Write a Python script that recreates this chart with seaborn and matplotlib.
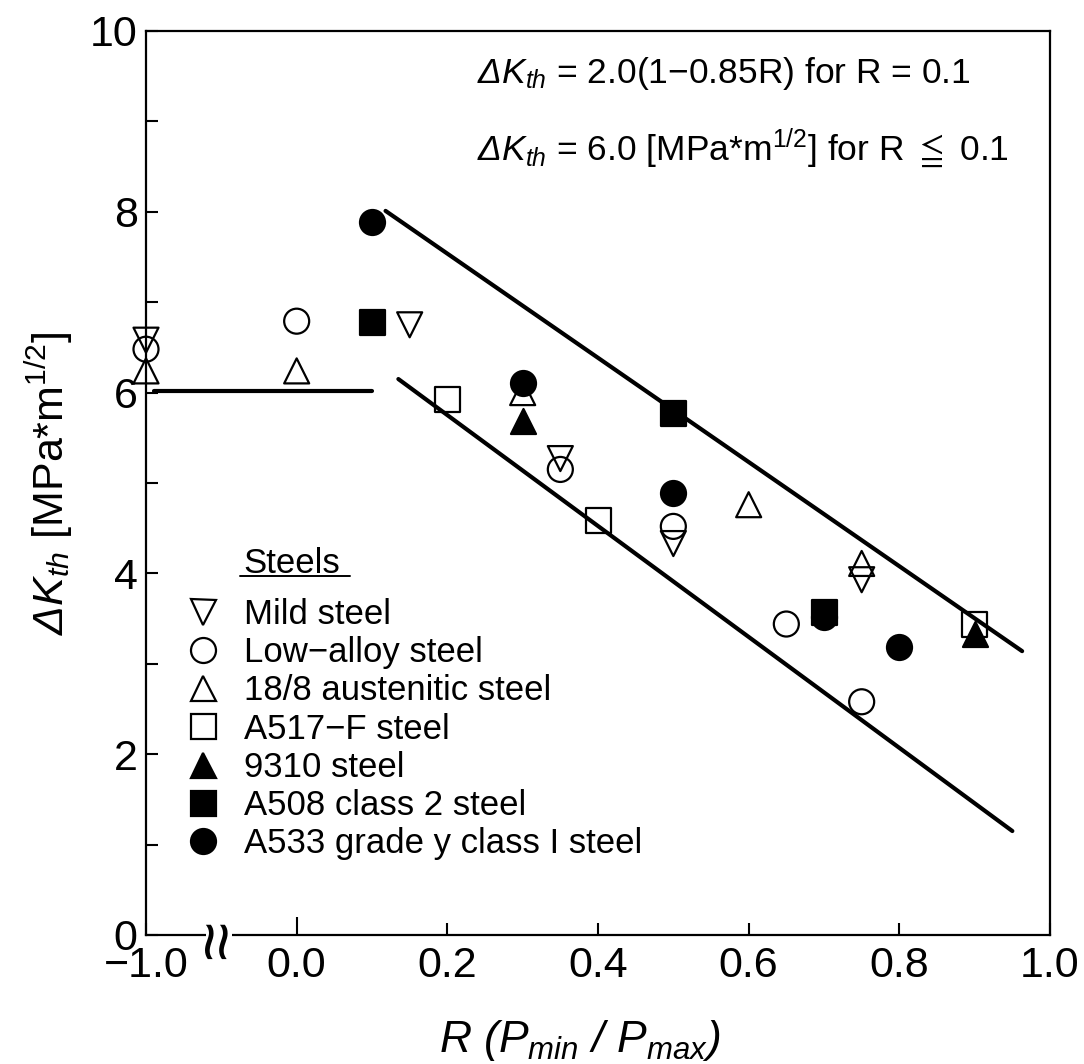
import numpy as np
import pandas as pd
import matplotlib
matplotlib.use("Agg")
import matplotlib.pyplot as plt
import matplotlib.transforms as mtransforms
from matplotlib.lines import Line2D
from matplotlib.ticker import MultipleLocator, NullLocator, FixedLocator
import seaborn as sns

# ---------------- data ----------------
steel_names = ["Mild steel", "Low\u2212alloy steel", "18/8 austenitic steel",
               "A517\u2212F steel", "9310 steel", "A508 class 2 steel",
               "A533 grade y class I steel"]

mild_R = [-1.0, 0.15, 0.35, 0.50, 0.75]
mild_dK = [6.58, 6.75, 5.27, 4.33, 3.93]
lowalloy_R = [-1.0, 0.0, 0.35, 0.50, 0.65, 0.75]
lowalloy_dK = [6.48, 6.79, 5.15, 4.52, 3.44, 2.58]
austenitic_R = [-1.0, 0.0, 0.30, 0.60, 0.75]
austenitic_dK = [6.24, 6.24, 6.00, 4.76, 4.11]
a517_R = [0.20, 0.40, 0.90]
a517_dK = [5.92, 4.58, 3.44]
s9310_R = [0.30, 0.90]
s9310_dK = [5.69, 3.33]
a508_R = [0.10, 0.50, 0.70]
a508_dK = [6.78, 5.77, 3.57]
a533_R = [0.10, 0.30, 0.50, 0.70, 0.80]
a533_dK = [7.89, 6.11, 4.89, 3.52, 3.19]

upper_R = [0.118, 0.963]
upper_dK = [8.01, 3.14]
lower_R = [0.135, 0.950]
lower_dK = [6.15, 1.15]
flat_R = [-0.19, 0.10]          # on the broken-axis scale
flat_dK = [6.02, 6.02]

x_tick_R = [-1.0, 0.0, 0.2, 0.4, 0.6, 0.8, 1.0]
x_tick_labels = ["\u22121.0", "0.0", "0.2", "0.4", "0.6", "0.8", "1.0"]
y_tick_vals = [0, 2, 4, 6, 8, 10]

eq1 = r"$\Delta K_{th}$" + " = 2.0(1\u22120.85R) for R = 0.1"
eq2 = r"$\Delta K_{th}$ = 6.0 [MPa*m$^{\mathsf{1/2}}$] for R $\leqq$ 0.1"
ylabel = r"$\Delta K_{th}$ [MPa*m$^{\mathsf{1/2}}$]"
xlabel = r"$R\ (P_{min}\ /\ P_{max})$"

# ---------------- styling ----------------
sns.set_theme(style="ticks")
plt.rcParams["font.family"] = ["Liberation Sans", "DejaVu Sans"]
plt.rcParams["mathtext.fontset"] = "custom"
plt.rcParams["mathtext.rm"] = "Liberation Sans:italic"
plt.rcParams["mathtext.it"] = "Liberation Sans:italic"
plt.rcParams["mathtext.sf"] = "Liberation Sans"
plt.rcParams["mathtext.fallback"] = "stixsans"
plt.rcParams["axes.unicode_minus"] = True


def broken(r):
    """Map R onto the broken x axis: R = -1.0 sits at -0.2."""
    r = np.asarray(r, dtype=float)
    return np.where(r <= -0.99, -0.2, r)


series = [
    (steel_names[0], mild_R, mild_dK, "v", False),
    (steel_names[1], lowalloy_R, lowalloy_dK, "o", False),
    (steel_names[2], austenitic_R, austenitic_dK, "^", False),
    (steel_names[3], a517_R, a517_dK, "s", False),
    (steel_names[4], s9310_R, s9310_dK, "^", True),
    (steel_names[5], a508_R, a508_dK, "s", True),
    (steel_names[6], a533_R, a533_dK, "o", True),
]

rows = []
for name, R, dK, m, filled in series:
    for r, k in zip(R, dK):
        rows.append({"steel": name, "R": r, "Rx": float(broken([r])[0]), "dK": k})
df = pd.DataFrame(rows)

W, H = 1084, 1064
fig = plt.figure(figsize=(W / 100, H / 100), dpi=100)
ax_l, ax_r, ax_t, ax_b = 146, 1050, 31, 935
ax = fig.add_axes([ax_l / W, 1 - ax_b / H, (ax_r - ax_l) / W, (ax_b - ax_t) / H])
ax.set_facecolor("white")

MS = 18  # marker size in points
for name, R, dK, m, filled in series:
    sub = df[df["steel"] == name]
    sns.scatterplot(data=sub, x="Rx", y="dK", marker=m, s=MS ** 2, ax=ax,
                    clip_on=False, zorder=4 if filled else 3, legend=False)
    coll = ax.collections[-1]
    coll.set_facecolor("black" if filled else "none")
    coll.set_edgecolor("black")
    coll.set_linewidth(1.6)

for xs, ys in [(upper_R, upper_dK), (lower_R, lower_dK), (flat_R, flat_dK)]:
    sns.lineplot(x=xs, y=ys, color="black", linewidth=3.0, sort=False,
                 ax=ax, zorder=2, estimator=None)

ax.set_xlim(-0.2, 1.0)
ax.set_ylim(0, 10)
ax.xaxis.set_major_locator(FixedLocator(list(broken(x_tick_R))))
ax.set_xticklabels(x_tick_labels)
ax.xaxis.set_minor_locator(NullLocator())
ax.set_yticks(y_tick_vals)
ax.yaxis.set_minor_locator(MultipleLocator(1))

for s in ax.spines.values():
    s.set_linewidth(1.6)
    s.set_color("black")
ax.tick_params(axis="both", which="both", direction="in", length=8.6,
               width=1.5, color="black", top=False, right=False)
ax.tick_params(axis="both", which="major", labelsize=31, labelcolor="black")
ax.tick_params(axis="x", pad=8)
ax.tick_params(axis="y", pad=6)
ax.xaxis.get_major_ticks()[1].tick1line.set_markersize(13)

ax.set_xlabel(xlabel, fontsize=32, color="black")
ax.set_ylabel(ylabel, fontsize=31, color="black")
ax.xaxis.set_label_coords(0.48, -0.092)
ax.yaxis.set_label_coords(-0.078, 0.5)

# equations
def fx(px):
    return (px - ax_l) / (ax_r - ax_l)

def fy(py):
    return (ax_b - py) / (ax_b - ax_t)

ax.text(fx(477), fy(83), eq1, transform=ax.transAxes, fontsize=25.5,
        va="baseline", ha="left", color="black")
ax.text(fx(477), fy(160), eq2, transform=ax.transAxes, fontsize=25.5,
        va="baseline", ha="left", color="black")

# axis break symbol
trans = mtransforms.blended_transform_factory(ax.transData, ax.transAxes)
ax.plot([fx(206) * 1.2 - 0.2, fx(232) * 1.2 - 0.2], [0, 0], color="white",
        lw=3, transform=trans, clip_on=False, zorder=6, solid_capstyle="butt")
ax.text(fx(219) * 1.2 - 0.2, -0.006, "\u2248", rotation=90, transform=trans,
        fontsize=50, ha="center", va="center", color="black",
        clip_on=False, zorder=7)

# legend
handles = []
for name, R, dK, m, filled in series:
    handles.append(Line2D([], [], linestyle="none", marker=m, markersize=MS,
                          markerfacecolor="black" if filled else "none",
                          markeredgecolor="black", markeredgewidth=1.6))
leg = ax.legend(handles, [s[0] for s in series], loc="upper left",
                bbox_to_anchor=(fx(186), fy(598)), frameon=False,
                fontsize=25, borderpad=0, borderaxespad=0,
                handlelength=1.0, handletextpad=0.67, labelspacing=0.15)
for t in leg.get_texts():
    t.set_color("black")

ax.text(fx(243), fy(573), "Steels", transform=ax.transAxes, fontsize=25,
        va="baseline", ha="left", color="black")
ax.plot([fx(240), fx(350)], [fy(576), fy(576)], color="black", lw=1.4,
        transform=ax.transAxes, clip_on=False)

fig.savefig("out.png", dpi=100, facecolor="white")
